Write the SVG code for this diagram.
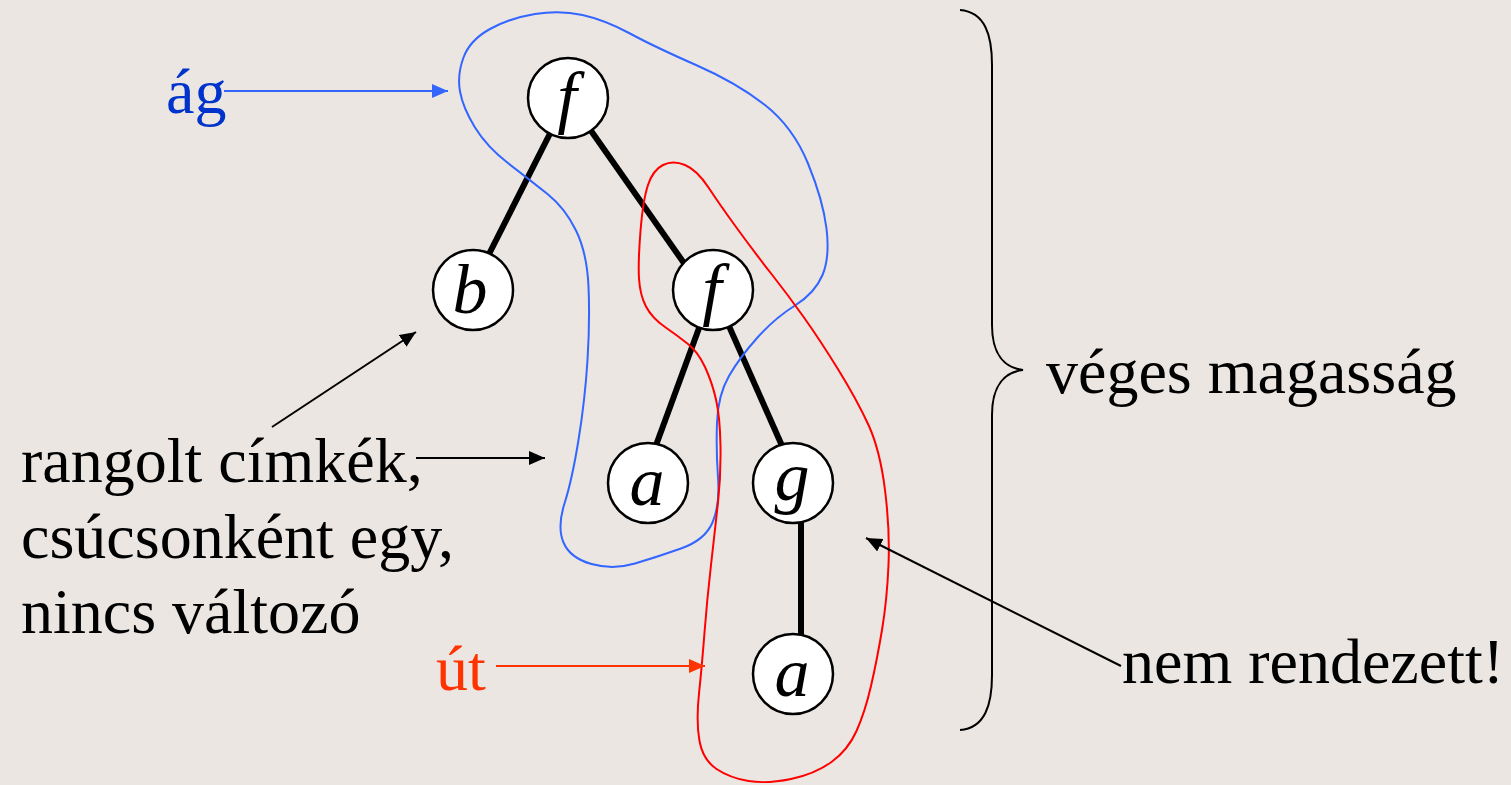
<svg xmlns="http://www.w3.org/2000/svg" width="1511" height="785" viewBox="0 0 1511 785">
<defs>
<marker id="ab" markerUnits="userSpaceOnUse" markerWidth="18" markerHeight="16" refX="16" refY="7" orient="auto"><path d="M0,0 L16,7 L0,14 Z" fill="#000"/></marker>
<marker id="abl" markerUnits="userSpaceOnUse" markerWidth="18" markerHeight="16" refX="16" refY="7" orient="auto"><path d="M0,0 L16,7 L0,14 Z" fill="#3366ff"/></marker>
<marker id="ar" markerUnits="userSpaceOnUse" markerWidth="18" markerHeight="16" refX="16" refY="7" orient="auto"><path d="M0,0 L16,7 L0,14 Z" fill="#ff3300"/></marker>
</defs>
<style>
.t{font-family:"Liberation Serif","Times New Roman",serif;font-size:64px;fill:#000}
.n{font-family:"Liberation Serif","Times New Roman",serif;font-size:70px;font-style:italic;text-anchor:middle;fill:#000}
.c{fill:#fff;stroke:#000;stroke-width:2.5}
.e{stroke:#000;stroke-width:6;fill:none}
.a{stroke:#000;stroke-width:2;fill:none}
</style>
<rect width="1511" height="785" fill="#ebe6e2"/>
<g id="edges">
<line class="e" x1="568" y1="98" x2="488" y2="256"/>
<line class="e" x1="568" y1="98" x2="686" y2="266"/>
<line class="e" x1="713" y1="290" x2="655" y2="448"/>
<line class="e" x1="713" y1="290" x2="783" y2="448"/>
<line class="e" x1="801" y1="515" x2="801" y2="640"/>
</g>
<g id="regions">
<path id="ag-region" fill="none" stroke="#3366ff" stroke-width="2" d="M582.5,15 Q605,20 630,33.5 Q655,47 696,65 Q737,83 765,105 Q793,127 808,163.5 Q823,200 826.5,228.5 Q830,257 822.5,275 Q815,293 795,305.5 Q775,318 757.5,337.5 Q740,357 729,376 Q718,395 717,422.5 Q716,450 718,477.5 Q720,505 712.5,522.5 Q705,540 681,548.5 Q657,557 635,563.5 Q613,570 591.5,564 Q570,558 563.5,542.5 Q557,527 564.5,503.5 Q572,480 578.5,440 Q585,400 587.5,360 Q590,320 588.5,286.5 Q587,253 576,230.5 Q565,208 547.5,194 Q530,180 508.5,163.5 Q487,147 475,127.5 Q463,108 460,91.5 Q457,75 463.5,57.5 Q470,40 490,29 Q510,18 535,14 Q560,10 582.5,15 Z"/>
<path id="ut-region" fill="none" stroke="#ff0000" stroke-width="2" d="M685,165 Q697,170 708.5,187.5 Q720,205 737.5,229 Q755,253 771.5,274 Q788,295 804,317.5 Q820,340 838.5,370 Q857,400 868.5,425 Q880,450 885,490 Q890,530 888.5,565 Q887,600 882,630 Q877,660 871,686 Q865,712 856.5,731 Q848,750 831.5,762 Q815,774 791,779 Q767,784 748.5,781 Q730,778 716.5,769 Q703,760 699.5,741 Q696,722 699,693.5 Q702,665 704.5,632.5 Q707,600 711,565 Q715,530 718,502.5 Q721,475 720.5,446 Q720,417 716,399.5 Q712,382 705,367 Q698,352 688,344 Q678,336 665,327 Q652,318 646,306.5 Q640,295 639,278.5 Q638,262 640.5,231 Q643,200 648,185 Q653,170 663,165 Q673,160 685,165 Z"/>
</g>
<g id="n1"><circle class="c" cx="568" cy="98" r="40"/><text class="n" x="567" y="120">f</text></g>
<g id="n2"><circle class="c" cx="473" cy="290" r="40"/><text class="n" x="470" y="313">b</text></g>
<g id="n3"><circle class="c" cx="713" cy="290" r="40"/><text class="n" x="712" y="312">f</text></g>
<g id="n4"><circle class="c" cx="648" cy="483" r="40"/><text class="n" x="647" y="505">a</text></g>
<g id="n5"><circle class="c" cx="793" cy="483" r="40"/><text class="n" x="792" y="500">g</text></g>
<g id="n6"><circle class="c" cx="793" cy="674" r="40"/><text class="n" x="792" y="696">a</text></g>
<g id="annotations">
<line x1="224" y1="91" x2="448" y2="91" stroke="#3366ff" stroke-width="2" marker-end="url(#abl)"/>
<line x1="496" y1="666" x2="705" y2="666" stroke="#ff3300" stroke-width="2" marker-end="url(#ar)"/>
<line class="a" x1="416" y1="458" x2="545" y2="458" marker-end="url(#ab)"/>
<line class="a" x1="272" y1="427" x2="416" y2="332" marker-end="url(#ab)"/>
<line class="a" x1="1121" y1="666" x2="866" y2="538" marker-end="url(#ab)"/>
<path class="a" d="M960,10 C985,12 992,35 992,65 L992,325 C992,355 1005,368 1023,370 C1005,372 992,385 992,415 L992,675 C992,705 985,728 960,730"/>
</g>
<g id="labels">
<text class="t" x="166" y="113" style="fill:#0033cc">ág</text>
<text class="t" x="436" y="690" style="fill:#ff3300">út</text>
<text class="t" x="21" y="482">rangolt címkék,</text>
<text class="t" x="21" y="558">csúcsonként egy,</text>
<text class="t" x="21" y="633">nincs változó</text>
<text class="t" x="1046" y="393">véges magasság</text>
<text class="t" x="1122" y="683">nem rendezett!</text>
</g>
</svg>
